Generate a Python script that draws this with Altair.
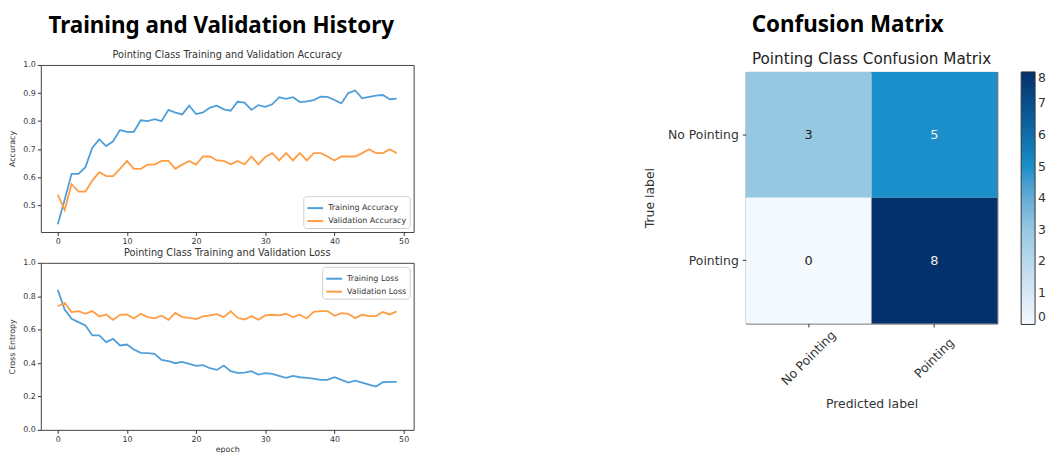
import altair as alt
import pandas as pd

# ---------------- data ----------------
epochs = list(range(50))
train_acc = [0.433, 0.52, 0.612, 0.612, 0.636, 0.705, 0.735, 0.711, 0.728, 0.768,
             0.762, 0.762, 0.803, 0.80, 0.807, 0.80, 0.84, 0.83, 0.824, 0.855,
             0.825, 0.831, 0.848, 0.855, 0.842, 0.837, 0.869, 0.866, 0.84, 0.857,
             0.851, 0.86, 0.885, 0.879, 0.885, 0.868, 0.870, 0.875, 0.887, 0.886,
             0.875, 0.863, 0.90, 0.909, 0.881, 0.886, 0.891, 0.893, 0.878, 0.88]
val_acc = [0.538, 0.483, 0.576, 0.549, 0.549, 0.588, 0.618, 0.604, 0.604, 0.63,
           0.658, 0.63, 0.63, 0.645, 0.645, 0.658, 0.658, 0.63, 0.645, 0.658,
           0.645, 0.674, 0.674, 0.66, 0.658, 0.646, 0.658, 0.646, 0.674, 0.646,
           0.672, 0.686, 0.66, 0.686, 0.66, 0.686, 0.66, 0.686, 0.686, 0.674,
           0.66, 0.674, 0.674, 0.674, 0.686, 0.70, 0.686, 0.686, 0.70, 0.686]
train_loss = [0.838, 0.72, 0.665, 0.645, 0.625, 0.565, 0.565, 0.525, 0.545, 0.505,
              0.511, 0.481, 0.461, 0.459, 0.455, 0.419, 0.411, 0.399, 0.407, 0.395,
              0.383, 0.387, 0.369, 0.359, 0.385, 0.351, 0.341, 0.343, 0.351, 0.331,
              0.339, 0.335, 0.323, 0.311, 0.323, 0.315, 0.311, 0.307, 0.299, 0.299,
              0.315, 0.299, 0.283, 0.295, 0.283, 0.271, 0.259, 0.285, 0.287, 0.287]
val_loss = [0.74, 0.76, 0.705, 0.711, 0.695, 0.711, 0.679, 0.691, 0.659, 0.689,
            0.691, 0.667, 0.695, 0.675, 0.667, 0.683, 0.659, 0.70, 0.675, 0.671,
            0.663, 0.679, 0.685, 0.693, 0.675, 0.711, 0.671, 0.661, 0.681, 0.659,
            0.685, 0.689, 0.685, 0.695, 0.675, 0.689, 0.667, 0.707, 0.711, 0.711,
            0.683, 0.699, 0.695, 0.669, 0.689, 0.681, 0.681, 0.705, 0.691, 0.709]

acc_names = ["Training Accuracy", "Validation Accuracy"]
loss_names = ["Training Loss", "Validation Loss"]
x_ticks = [0, 10, 20, 30, 40, 50]
acc_ticks = [0.5, 0.6, 0.7, 0.8, 0.9, 1.0]
loss_ticks = [0.0, 0.2, 0.4, 0.6, 0.8, 1.0]

classes = ["No Pointing", "Pointing"]
cm_true = ["No Pointing", "No Pointing", "Pointing", "Pointing"]
cm_pred = ["No Pointing", "Pointing", "No Pointing", "Pointing"]
cm_counts = [3, 5, 0, 8]
cbar_ticks = [0, 1, 2, 3, 4, 5, 6, 7, 8]
cm_subtitle = ["Pointing Class Confusion Matrix"]

# ---------------- style ----------------
FONT = "DejaVu Sans"
TITLE_FONT = "Noto Sans"
BLUE = "#4f9fd9"
ORANGE = "#ff9d45"
TXT = "#333333"
SMALL = 8          # tick / legend text of the history plots
CM_FONT = 12.5     # tick / axis text of the confusion matrix

acc_df = pd.DataFrame({
    "epoch": epochs + epochs,
    "value": train_acc + val_acc,
    "series": [acc_names[0]] * 50 + [acc_names[1]] * 50,
})
loss_df = pd.DataFrame({
    "epoch": epochs + epochs,
    "value": train_loss + val_loss,
    "series": [loss_names[0]] * 50 + [loss_names[1]] * 50,
})
cm_df = pd.DataFrame({"true": cm_true, "pred": cm_pred, "n": cm_counts})
sub_df = pd.DataFrame({"t": cm_subtitle})


def line_panel(df, names, title, ydom, yticks, ytitle, xtitle, legend_orient):
    return alt.Chart(
        df,
        title=alt.TitleParams(title, font=FONT, fontSize=9.8, fontWeight="normal",
                              color=TXT, frame="group", anchor="middle", offset=1),
    ).mark_line(strokeWidth=1.8, clip=True).encode(
        x=alt.X("epoch:Q",
                scale=alt.Scale(domain=[-2.45, 51.45], nice=False, zero=False),
                axis=alt.Axis(values=x_ticks, title=xtitle, labelFontSize=SMALL,
                              titleFontSize=SMALL, tickSize=3.5, labelPadding=2,
                              titlePadding=2, labelFlush=False)),
        y=alt.Y("value:Q",
                scale=alt.Scale(domain=ydom, nice=False, zero=False),
                axis=alt.Axis(values=yticks, format=".1f", title=ytitle,
                              labelFontSize=SMALL, titleFontSize=SMALL, tickSize=3.5,
                              labelPadding=2, titlePadding=6, labelFlush=False)),
        stroke=alt.Stroke("series:N",
                          scale=alt.Scale(domain=names, range=[BLUE, ORANGE]),
                          legend=alt.Legend(title=None, orient=legend_orient, offset=4,
                                            fillColor="white", strokeColor="#cfcfcf",
                                            cornerRadius=3, padding=3,
                                            symbolType="stroke", symbolStrokeWidth=2,
                                            symbolSize=250, labelFontSize=SMALL,
                                            labelFont=FONT, labelColor=TXT,
                                            rowPadding=0)),
    ).properties(width=375, height=168)


acc = line_panel(acc_df, acc_names, "Pointing Class Training and Validation Accuracy",
                 [0.405, 1.0], acc_ticks, "Accuracy", None, "bottom-right")
loss = line_panel(loss_df, loss_names, "Pointing Class Training and Validation Loss",
                  [0.0, 1.0], loss_ticks, "Cross Entropy", "epoch", "top-right")

left = alt.vconcat(
    acc, loss, spacing=1,
    title=alt.TitleParams("Training and Validation History", font=TITLE_FONT,
                          fontSize=22.5, fontWeight="bold", color="black",
                          anchor="middle", offset=12.7, dx=10),
).resolve_scale(stroke="independent")

# subtitle strip above the confusion matrix
sub = alt.Chart(sub_df).mark_text(
    font=FONT, fontSize=15.3, color="#222", baseline="middle", align="center"
).encode(
    text=alt.Text("t:N"),
    x=alt.value(126.5),
    y=alt.value(-6),
).properties(width=253, height=6,
             view=alt.ViewBackground(stroke="transparent", strokeWidth=0))

base = alt.Chart(cm_df).encode(
    x=alt.X("pred:N", sort=classes,
            scale=alt.Scale(paddingInner=0, paddingOuter=0),
            axis=alt.Axis(title="Predicted label", labelAngle=-45, labelAlign="center",
                          labelBaseline="middle", labelPadding=31, labelFontSize=CM_FONT,
                          titleFontSize=CM_FONT, tickSize=3.5, titlePadding=10)),
    y=alt.Y("true:N", sort=classes,
            scale=alt.Scale(paddingInner=0, paddingOuter=0),
            axis=alt.Axis(title="True label", labelFontSize=CM_FONT,
                          titleFontSize=CM_FONT, tickSize=3.5, labelPadding=4,
                          titlePadding=11)),
)

rect = base.mark_rect().encode(
    fill=alt.Fill("n:Q",
                  scale=alt.Scale(domain=[0, 3, 5, 8],
                                  range=["#f4f9fe", "#96c8e2", "#1b8fc9", "#04306b"]),
                  legend=alt.Legend(title=None, orient="right", offset=24,
                                    values=cbar_ticks, gradientLength=254,
                                    gradientThickness=14, gradientStrokeColor="#333",
                                    gradientStrokeWidth=1, labelFontSize=CM_FONT,
                                    labelFont=FONT, labelColor=TXT, labelOffset=3,
                                    labelBaseline="middle", labelOverlap=False,
                                    direction="vertical")),
)
text = base.mark_text(font=FONT, fontSize=13).encode(
    text=alt.Text("n:Q"),
    color=alt.condition(alt.datum.n > 4, alt.value("#f0f0f0"), alt.value("#222222")),
)
heat = alt.layer(rect, text).properties(width=253, height=253)

right = alt.vconcat(
    sub, heat, spacing=0,
    title=alt.TitleParams("Confusion Matrix", font=TITLE_FONT, fontSize=22.5,
                          fontWeight="bold", color="black", anchor="middle",
                          offset=15.7, dx=3),
).resolve_scale(fill="independent")

chart = alt.concat(left, right, columns=2, spacing=229, align="none").resolve_scale(
    stroke="independent", fill="independent"
).properties(
    padding={"left": 0, "top": 4, "right": 0, "bottom": 0}
).configure_view(
    stroke="#444444", strokeWidth=1
).configure_axis(
    grid=False, domain=False, tickColor=TXT, labelColor=TXT, titleColor=TXT,
    labelFont=FONT, titleFont=FONT, titleFontWeight="normal"
)

chart.save("out.html", embed_options={"renderer": "svg", "actions": False})
